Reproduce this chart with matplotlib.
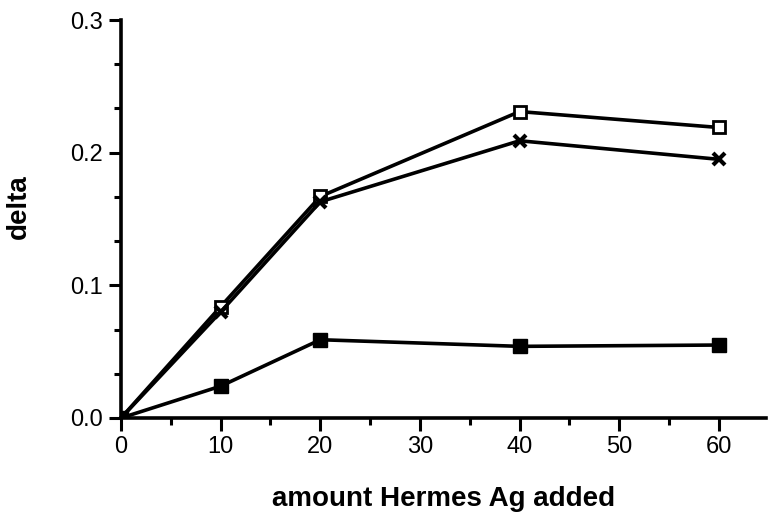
import matplotlib.pyplot as plt
from matplotlib.ticker import MultipleLocator

plt.rcParams['font.family'] = ['Liberation Sans', 'DejaVu Sans']

amount = [0, 10, 20, 40, 60]
open_sq = [0.0, 0.084, 0.167, 0.231, 0.219]
cross = [0.0, 0.080, 0.163, 0.209, 0.195]
filled_sq = [0.0, 0.024, 0.059, 0.054, 0.055]

fig = plt.figure(figsize=(7.68, 5.14), dpi=100)
ax = fig.add_axes([0.1576, 0.1868, 0.8394, 0.7742])

ax.plot(amount, open_sq, color='black', lw=2.6, marker='s', ms=9,
        mfc='white', mec='black', mew=2, zorder=3)
ax.plot(amount, cross, color='black', lw=2.6, marker='x', ms=9,
        mec='black', mew=3, zorder=3)
ax.plot(amount, filled_sq, color='black', lw=2.6, marker='s', ms=9.5,
        mfc='black', mec='black', zorder=4)

ax.set_xlim(0, 64.7)
ax.set_ylim(0, 0.3)
ax.xaxis.set_minor_locator(MultipleLocator(5))
ax.yaxis.set_minor_locator(MultipleLocator(0.1 / 3))
ax.set_xticks([0, 10, 20, 30, 40, 50, 60])
ax.set_yticks([0.0, 0.1, 0.2, 0.3])
ax.set_yticklabels(['0.0', '0.1', '0.2', '0.3'])

for s in ['top', 'right']:
    ax.spines[s].set_visible(False)
for s in ['left', 'bottom']:
    ax.spines[s].set_linewidth(2.6)
    ax.spines[s].set_capstyle('projecting')

ax.tick_params(which='major', direction='out', length=9, width=2.2,
               labelsize=17, pad=4)
ax.tick_params(which='minor', direction='out', length=5, width=2.2)

ax.set_xlabel('amount Hermes Ag added', fontsize=20, fontweight='bold', labelpad=20)
ax.set_ylabel('delta', fontsize=20, fontweight='bold')
ax.yaxis.set_label_coords(-0.138, 0.53)

fig.savefig('out.png', dpi=100)
